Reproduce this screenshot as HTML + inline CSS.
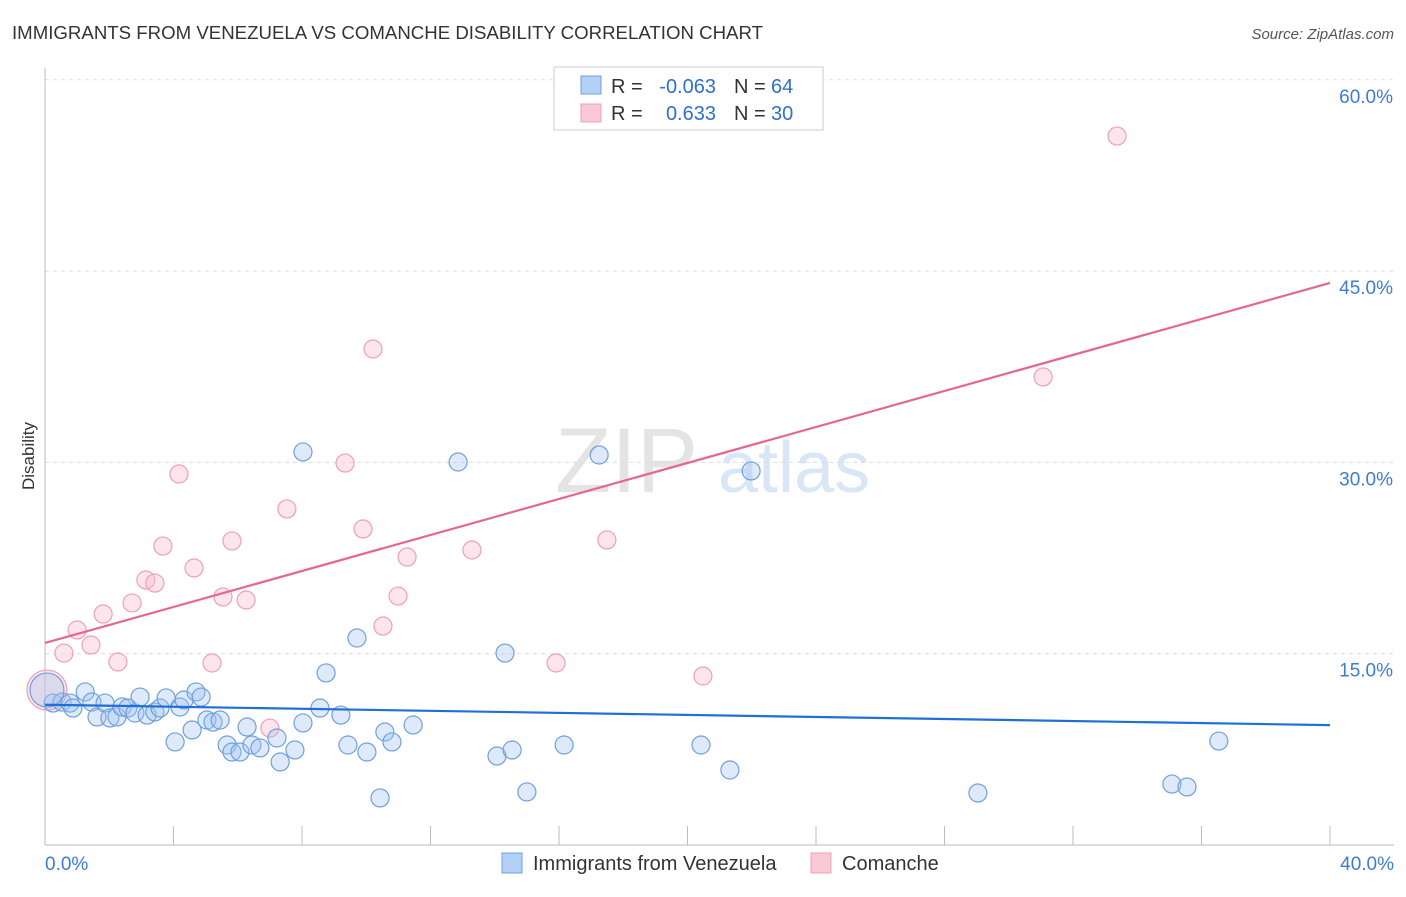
<!DOCTYPE html>
<html><head><meta charset="utf-8"><style>
body{margin:0;background:#fff;font-family:"Liberation Sans",sans-serif;}
svg text{font-family:"Liberation Sans",sans-serif;}
</style></head><body>
<svg id="chart" width="1406" height="892" xmlns="http://www.w3.org/2000/svg">
<text x="12" y="39" font-size="18" fill="#333" textLength="751" lengthAdjust="spacingAndGlyphs">IMMIGRANTS FROM VENEZUELA VS COMANCHE DISABILITY CORRELATION CHART</text>
<text x="1394" y="39" font-size="15" fill="#555" text-anchor="end" font-style="italic">Source: ZipAtlas.com</text>
<text x="555" y="492" font-size="92" fill="#e4e4e4" font-family="Liberation Serif">ZIP</text>
<text x="718" y="492" font-size="72" fill="#d8e6f6">atlas</text>
<text transform="translate(34,456) rotate(-90)" font-size="17" fill="#333" text-anchor="middle">Disability</text>
<g id="grid"></g><g id="axes"></g><g id="marks"></g>
<g>
<rect x="554" y="67" width="269" height="63" fill="#fff" stroke="#ccc"/>
<rect x="581" y="76" width="20" height="18" fill="#b3d0f5" stroke="#6fa0de"/>
<rect x="581" y="104" width="20" height="18" fill="#f9c9d6" stroke="#eea0b5"/>
<text x="611" y="93" font-size="20" fill="#333">R =</text>
<text x="716" y="93" font-size="20" fill="#2f6fcf" text-anchor="end">-0.063</text>
<text x="734" y="93" font-size="20" fill="#333">N =</text>
<text x="771" y="93" font-size="20" fill="#2f6fcf">64</text>
<text x="611" y="120" font-size="20" fill="#333">R =</text>
<text x="716" y="120" font-size="20" fill="#2f6fcf" text-anchor="end">0.633</text>
<text x="734" y="120" font-size="20" fill="#333">N =</text>
<text x="771" y="120" font-size="20" fill="#2f6fcf">30</text>
</g>
<g>
<rect x="502" y="853" width="20" height="20" fill="#b3d0f5" stroke="#6fa0de"/>
<text x="533" y="870" font-size="20" fill="#333">Immigrants from Venezuela</text>
<rect x="811" y="853" width="20" height="20" fill="#f9c9d6" stroke="#eea0b5"/>
<text x="842" y="870" font-size="20" fill="#333">Comanche</text>
</g>
</svg>
<script>
const yTicks=[15,30,45,60];
const yTickLabels=["15.0%","30.0%","45.0%","60.0%"];
const xTickLabels=["0.0%","40.0%"];
const blueX=[0.25,0.53,0.78,0.87,1.25,1.46,1.62,1.87,2.02,2.24,2.40,2.58,2.80,2.96,3.18,3.42,3.58,3.77,4.20,4.33,4.70,4.86,4.05,4.58,5.04,5.23,5.45,5.67,5.82,6.07,6.29,6.44,6.69,7.22,7.32,7.78,8.03,8.56,8.75,9.21,9.43,10.02,10.58,10.80,11.46,8.03,12.86,17.25,21.98,9.71,14.32,10.43,14.07,14.54,15.0,16.16,20.42,21.32,29.04,35.08,35.55,36.54,0.06];
const blueY=[11.13,11.21,11.13,10.74,12.0,11.21,10.04,11.13,9.96,10.04,10.82,10.74,10.35,11.60,10.19,10.43,10.74,11.53,10.82,11.37,12.0,11.60,8.08,9.02,9.80,9.64,9.80,7.84,7.29,7.29,9.25,7.84,7.61,8.39,6.51,7.45,9.57,10.74,13.49,10.19,7.84,7.29,8.86,8.08,9.41,30.82,30.03,30.58,29.33,16.23,15.05,3.69,6.98,7.45,4.16,7.84,7.84,5.88,4.08,4.78,4.55,8.15,12.15];
const pinkX=[33.37,10.21,31.07,9.34,4.17,7.53,9.90,5.82,3.67,17.49,13.29,11.27,4.64,3.14,3.42,5.54,6.26,10.99,2.71,1.81,1.0,10.52,1.43,0.59,2.27,5.20,15.91,20.48,7.0,0.06];
const pinkY=[55.59,38.89,36.70,29.95,29.09,26.35,24.78,23.84,23.44,23.92,23.13,22.58,21.72,20.78,20.54,19.45,19.21,19.52,18.98,18.11,16.86,17.17,15.68,15.05,14.35,14.27,14.27,13.25,9.17,12.15];
const blueTrend=[11.0,9.4];
const pinkTrend=[15.84,44.07];
const trendX=[0,40];
const NS="http://www.w3.org/2000/svg";
const xs=v=>45+v/40*1285;
const ys=v=>845-v/15*191.3;
function mk(tag,attrs,parent){const e=document.createElementNS(NS,tag);for(const k in attrs)e.setAttribute(k,attrs[k]);parent.appendChild(e);return e;}
const grid=document.getElementById('grid'),axes=document.getElementById('axes'),marks=document.getElementById('marks');
yTicks.forEach((t,i)=>{
 const l=mk('line',{x1:45,x2:1394,y1:ys(t),y2:ys(t),stroke:'#ddd','stroke-dasharray':'4,4'},grid);
 
 
 const tx=mk('text',{x:1393,y:ys(t)+23,'font-size':19,fill:'#3d7bd6','text-anchor':'end'},axes);
 tx.textContent=yTickLabels[i];
 
 
});
const ax=mk('line',{x1:45,x2:1394,y1:845,y2:845,stroke:'#bbb'},axes);


const ay=mk('line',{x1:45,x2:45,y1:68,y2:845,stroke:'#bbb'},axes);


for(let i=1;i<=10;i++){const t=mk('line',{x1:xs(i*4),x2:xs(i*4),y1:826,y2:845,stroke:'#bbb'},axes);
 
 }
[[0,'start',45],[40,'end',1394]].forEach((d,i)=>{const t=mk('text',{x:d[2],y:870,'font-size':19,fill:'#3d7bd6','text-anchor':d[1]},axes);t.textContent=xTickLabels[i];
 
 });
pinkX.forEach((x,i)=>{const r=i===pinkX.length-1?20:9;
 const c=mk('circle',{cx:xs(x),cy:ys(pinkY[i]),r:r,fill:'rgba(248,190,205,0.4)',stroke:'#eea0b5','stroke-width':1.2},marks);
 
 });
blueX.forEach((x,i)=>{const r=i===blueX.length-1?17:9;
 const c=mk('circle',{cx:xs(x),cy:ys(blueY[i]),r:r,fill:'rgba(160,196,240,0.35)',stroke:'#6fa0de','stroke-width':1.2},marks);
 
 });
const bl=mk('line',{x1:xs(trendX[0]),x2:xs(trendX[1]),y1:ys(blueTrend[0]),y2:ys(blueTrend[1]),stroke:'#1f6fd6','stroke-width':2.2},marks);


const pl=mk('line',{x1:xs(trendX[0]),x2:xs(trendX[1]),y1:ys(pinkTrend[0]),y2:ys(pinkTrend[1]),stroke:'#e5668f','stroke-width':2.2},marks);


</script>
</body></html>
